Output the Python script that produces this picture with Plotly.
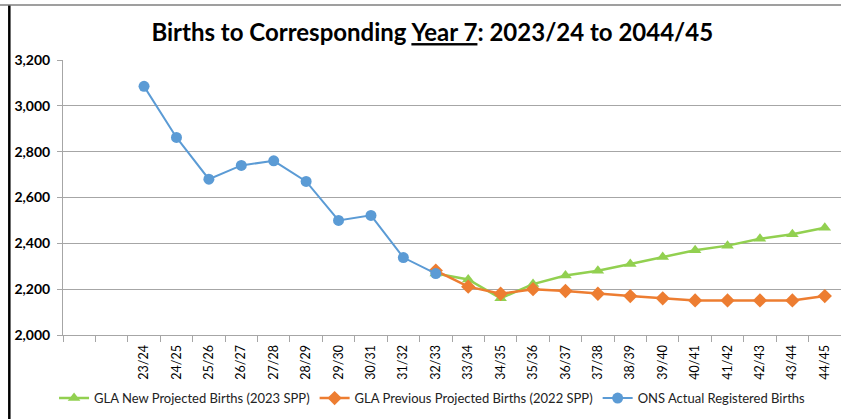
import plotly.graph_objects as go

###
# Data
###
blank_slots = [" ", "  "]
years = ["23/24", "24/25", "25/26", "26/27", "27/28", "28/29", "29/30", "30/31",
         "31/32", "32/33", "33/34", "34/35", "35/36", "36/37", "37/38", "38/39",
         "39/40", "40/41", "41/42", "42/43", "43/44", "44/45"]

ons_years = years[:10]
ons_actual = [3085, 2862, 2680, 2740, 2760, 2670, 2500, 2522, 2338, 2268]

proj_years = years[9:]
gla_new = [2268, 2242, 2160, 2222, 2260, 2280, 2310, 2340, 2370, 2390, 2420, 2440, 2468]
gla_prev = [2281, 2211, 2180, 2200, 2192, 2180, 2170, 2160, 2151, 2151, 2151, 2151, 2170]

GREEN = "#92D050"
ORANGE = "#ED7D31"
BLUE = "#5B9BD5"
FONT = "Lato, Calibri, sans-serif"

fig = go.Figure()

fig.add_trace(go.Scatter(
    x=proj_years, y=gla_new, mode="lines+markers",
    name="GLA New Projected Births (2023 SPP)",
    line=dict(color=GREEN, width=2.5),
    marker=dict(symbol="triangle-up", size=11, color=GREEN)))

fig.add_trace(go.Scatter(
    x=proj_years, y=gla_prev, mode="lines+markers",
    name="GLA Previous Projected Births (2022 SPP)",
    line=dict(color=ORANGE, width=2.5),
    marker=dict(symbol="diamond", size=11, color=ORANGE)))

fig.add_trace(go.Scatter(
    x=ons_years, y=ons_actual, mode="lines+markers",
    name="ONS Actual Registered Births",
    line=dict(color=BLUE, width=2),
    marker=dict(symbol="circle", size=11, color=BLUE)))

fig.update_layout(
    width=841, height=419,
    margin=dict(l=63, r=0, t=60, b=84),
    paper_bgcolor="white", plot_bgcolor="white",
    font=dict(family=FONT, color="black"),
    title=dict(text="<b>Births to Corresponding <u>Year 7</u>: 2023/24 to 2044/45</b>",
               x=0.514, xanchor="center", y=0.922, yanchor="middle",
               font=dict(size=24, family=FONT, color="black")),
    legend=dict(orientation="h", x=0.475, xanchor="center", y=-0.175, yanchor="top",
                font=dict(size=13, family=FONT, color="#222"),
                itemwidth=30, tracegroupgap=0, traceorder="normal"),
    showlegend=True,
)

fig.update_xaxes(
    type="category", categoryorder="array", categoryarray=blank_slots + years,
    range=[-0.5, len(blank_slots) + len(years) - 0.5],
    tickson="boundaries", ticks="outside", ticklen=6, tickcolor="#A6A6A6",
    tickangle=-90, ticklabelstandoff=4,
    tickfont=dict(size=12.5, family=FONT, color="black"),
    showline=True, linecolor="#A6A6A6", linewidth=1,
    showgrid=False, zeroline=False, fixedrange=True)

fig.update_yaxes(
    range=[2000, 3200], tickvals=[2000, 2200, 2400, 2600, 2800, 3000, 3200],
    tickformat=",", ticks="outside", ticklen=5, tickcolor="#A6A6A6",
    ticklabelstandoff=4,
    tickfont=dict(size=14, family=FONT, color="black", weight="bold"),
    showline=True, linecolor="#A6A6A6", linewidth=1,
    showgrid=True, gridcolor="#A6A6A6", gridwidth=1, zeroline=False)

# outer chart frame edges visible in the screenshot
fig.add_shape(type="line", xref="paper", yref="paper",
              x0=-0.069, x1=-0.069, y0=1.2, y1=-0.31,
              line=dict(color="black", width=2.5))
fig.add_shape(type="line", xref="paper", yref="paper",
              x0=-0.081, x1=1.0, y0=1.2, y1=1.2,
              line=dict(color="#7F7F7F", width=1.5))

# the page's default body margin would shift the chart by 8px
fig.write_html("out.html", config={"displayModeBar": False},
               post_script="document.body.style.margin='0';")
